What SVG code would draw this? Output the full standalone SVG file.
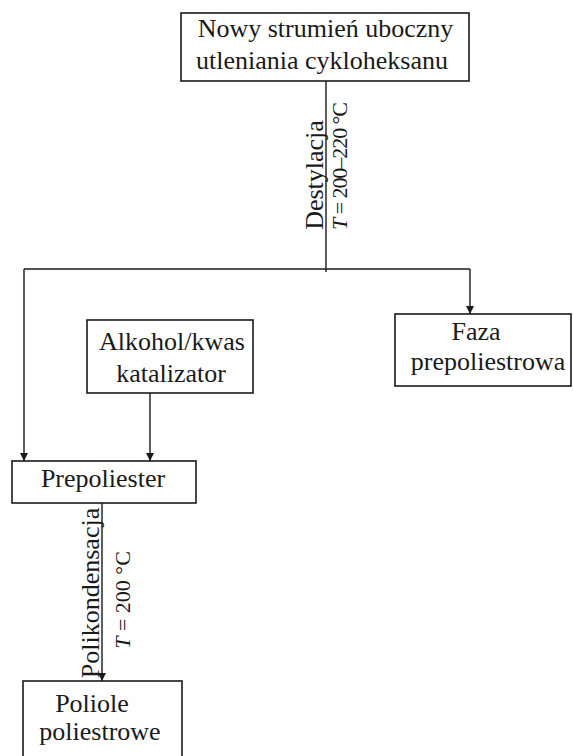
<svg xmlns="http://www.w3.org/2000/svg" width="573" height="756" viewBox="0 0 573 756">
<style>
  .box { fill: #ffffff; stroke: #1a1a1a; stroke-width: 1.6; }
  .t { font-size: 26px; fill: #1a1a1a; text-anchor: middle; }
  .s { font-size: 22px; fill: #1a1a1a; text-anchor: middle; }
  .c { fill: none; stroke: #1a1a1a; stroke-width: 1.4; }
</style>
<defs>
  <marker id="arr" viewBox="0 0 8 10" refX="8" refY="5" markerWidth="8" markerHeight="10" markerUnits="userSpaceOnUse" orient="auto">
    <path d="M0,1 L8,5 L0,9 Z" fill="#1a1a1a"/>
  </marker>
</defs>
<rect width="573" height="756" fill="#ffffff"/>

<g id="connectors" font-family="Liberation Serif">
  <path class="c" d="M326,81 V272"/>
  <path class="c" d="M24,269 H470"/>
  <path class="c" d="M24,269 V461" marker-end="url(#arr)"/>
  <path class="c" d="M470,269 V314" marker-end="url(#arr)"/>
  <path class="c" d="M150,393 V461" marker-end="url(#arr)"/>
  <path class="c" d="M102,503 V681" marker-end="url(#arr)"/>
  <text class="t" font-family="Liberation Serif" transform="translate(323,175) rotate(-90)">Destylacja</text>
  <text class="s" font-family="Liberation Serif" transform="translate(347,166) rotate(-90)" textLength="128" lengthAdjust="spacing"><tspan font-style="italic">T</tspan> = 200–220 °C</text>
  <text class="t" font-family="Liberation Serif" transform="translate(99,593) rotate(-90)">Polikondensacja</text>
  <text class="s" font-family="Liberation Serif" transform="translate(130,600) rotate(-90)"><tspan font-style="italic">T</tspan> = 200 °C</text>
</g>

<g id="node-strumien" font-family="Liberation Serif">
  <rect class="box" x="181" y="13" width="288" height="68"/>
  <text class="t" font-family="Liberation Serif" x="325.5" y="37">Nowy strumień uboczny</text>
  <text class="t" font-family="Liberation Serif" x="322" y="69">utleniania cykloheksanu</text>
</g>

<g id="node-faza" font-family="Liberation Serif">
  <rect class="box" x="395" y="314" width="176" height="72"/>
  <text class="t" font-family="Liberation Serif" x="476" y="340">Faza</text>
  <text class="t" font-family="Liberation Serif" x="488" y="370">prepoliestrowa</text>
</g>

<g id="node-alkohol" font-family="Liberation Serif">
  <rect class="box" x="87" y="320" width="166" height="73"/>
  <text class="t" font-family="Liberation Serif" x="172" y="350">Alkohol/kwas</text>
  <text class="t" font-family="Liberation Serif" x="171" y="382">katalizator</text>
</g>

<g id="node-prepoliester" font-family="Liberation Serif">
  <rect class="box" x="12" y="461" width="184" height="42"/>
  <text class="t" font-family="Liberation Serif" x="103" y="487">Prepoliester</text>
</g>

<g id="node-poliole" font-family="Liberation Serif">
  <rect class="box" x="23" y="681" width="159" height="90"/>
  <text class="t" font-family="Liberation Serif" x="92" y="712">Poliole</text>
  <text class="t" font-family="Liberation Serif" x="100" y="740">poliestrowe</text>
</g>
</svg>
